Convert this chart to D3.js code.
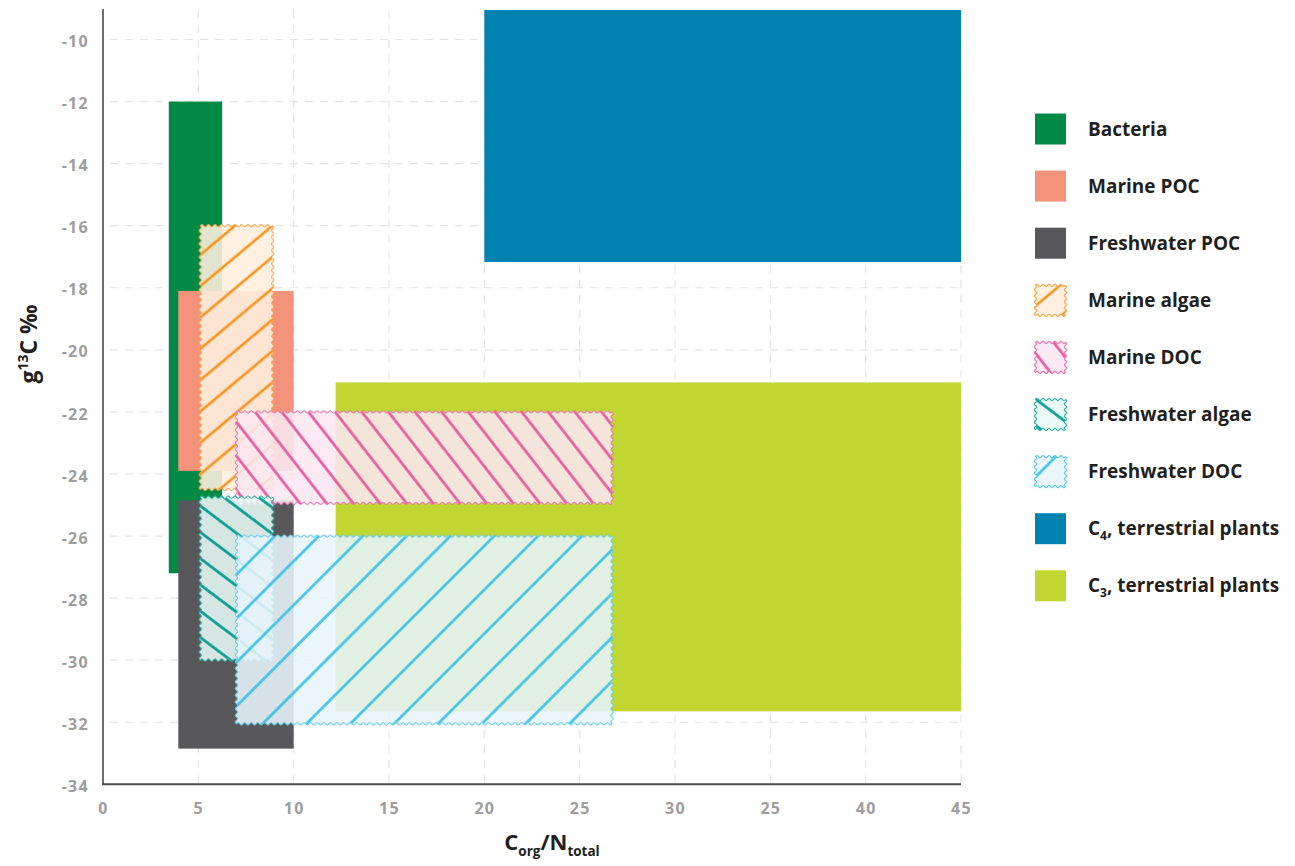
<!DOCTYPE html>
<html>
<head>
<meta charset="utf-8">
<script src="https://cdn.jsdelivr.net/npm/d3@7"></script>
<style>
  body { margin: 0; background: #fff; }
  svg { display: block; }
  text { font-family: "Open Sans", "Noto Sans", sans-serif; }
</style>
</head>
<body>
<svg id="chart" width="1295" height="866"></svg>
<script>
// ---------------- DATA ----------------
const categories = ["Bacteria", "Marine POC", "Freshwater POC", "Marine algae", "Marine DOC",
                    "Freshwater algae", "Freshwater DOC", "C4, terrestrial plants", "C3, terrestrial plants"];
// C/N ratio ranges
const xLow  = [3.45, 3.95, 3.95, 5.1,   7.0,   5.1,   7.0,   20.0,  12.2];
const xHigh = [6.25, 10.0, 10.0, 8.9,   26.7,  8.9,   26.7,  45.0,  45.0];
// delta13C ranges
const yLow  = [-27.2, -23.9, -32.85, -24.5, -24.95, -30.0, -32.05, -17.17, -31.65];
const yHigh = [-12.0, -18.1, -24.85, -16.0, -22.0,  -24.75, -26.0, -9.05,  -21.05];
const drawOrder = [0, 1, 2, 7, 8, 3, 4, 5, 6];
const yTicks = [-10, -12, -14, -16, -18, -20, -22, -24, -26, -28, -30, -32, -34];
const xTicks = [0, 5, 10, 15, 20, 25, 30, 35, 40, 45];
const xTickLabels = ["0", "5", "10", "15", "20", "25", "30", "25", "40", "45"];

// ---------------- STYLES ----------------
const styles = [
  { fill: "#008a45" },
  { fill: "#f5927c" },
  { fill: "#58585a" },
  { hatch: "#f7941d", bg: "rgba(254,239,222,0.89)", edge: "#f7a54a", angle: 50, gap: 24 },
  { hatch: "#e8579a", bg: "rgba(251,231,240,0.88)", edge: "#ec75ab", angle: -38, gap: 21 },
  { hatch: "#009a8e", bg: "rgba(230,249,246,0.88)", edge: "#33b0a6", angle: -53, gap: 21 },
  { hatch: "#3fc1e6", bg: "rgba(231,244,252,0.88)", edge: "#62cdec", angle: 45, gap: 31 },
  { fill: "#0083b0" },
  { fill: "#bfd730" }
];

const svg = d3.select("#chart");
const x = d3.scaleLinear().domain([0, 45]).range([103, 961]);
const y = d3.scaleLinear().domain([-34, -9.05]).range([784.3, 10]);

// patterns
const defs = svg.append("defs");
styles.forEach((s, i) => {
  if (!s.hatch) return;
  const p = defs.append("pattern")
    .attr("id", "hatch" + i)
    .attr("patternUnits", "userSpaceOnUse")
    .attr("width", s.gap).attr("height", 40)
    .attr("patternTransform", `rotate(${s.angle})`);
  p.append("rect").attr("width", s.gap).attr("height", 40).attr("fill", s.bg);
  p.append("line").attr("x1", s.gap / 2).attr("x2", s.gap / 2)
    .attr("y1", 0).attr("y2", 40)
    .attr("stroke", s.hatch).attr("stroke-width", 2.6);
});

// grid
const grid = svg.append("g");
grid.selectAll(".hg").data(yTicks.slice(0, -1)).join("line")
  .attr("x1", 110).attr("x2", x(45))
  .attr("y1", d => y(d)).attr("y2", d => y(d))
  .attr("stroke", "#e4e4e4").attr("stroke-width", 1.2).attr("stroke-dasharray", "8,7");
grid.selectAll(".vg").data(xTicks.slice(1)).join("line")
  .attr("x1", d => x(d)).attr("x2", d => x(d))
  .attr("y1", 10).attr("y2", y(-34))
  .attr("stroke", "#e4e4e4").attr("stroke-width", 1.2).attr("stroke-dasharray", "8,7");

// wavy rect path
function wavyPath(x0, y0, x1, y1, amp, wl) {
  const pts = [];
  function edge(ax, ay, bx, by, nx, ny) {
    const len = Math.hypot(bx - ax, by - ay);
    const n = Math.max(1, Math.round(len / wl));
    const steps = n * 10;
    for (let k = 0; k < steps; k++) {
      const t = k / steps;
      const off = amp * Math.sin(t * n * 2 * Math.PI);
      pts.push([ax + (bx - ax) * t + nx * off, ay + (by - ay) * t + ny * off]);
    }
  }
  edge(x0, y0, x1, y0, 0, -1);
  edge(x1, y0, x1, y1, 1, 0);
  edge(x1, y1, x0, y1, 0, 1);
  edge(x0, y1, x0, y0, -1, 0);
  return d3.line().curve(d3.curveCatmullRomClosed)(pts);
}

// rectangles
const marks = svg.append("g");
drawOrder.forEach(i => {
  const s = styles[i];
  const x0 = x(xLow[i]), x1 = x(xHigh[i]), y0 = y(yHigh[i]), y1 = y(yLow[i]);
  if (s.fill) {
    marks.append("rect").attr("x", x0).attr("y", y0)
      .attr("width", x1 - x0).attr("height", y1 - y0).attr("fill", s.fill);
  } else {
    marks.append("path").attr("d", wavyPath(x0, y0, x1, y1, 1.1, 6.6))
      .attr("fill", `url(#hatch${i})`)
      .attr("stroke", s.edge).attr("stroke-width", 1.2).attr("stroke-opacity", 0.85);
  }
});

// axes lines
svg.append("line").attr("x1", 103).attr("x2", 103).attr("y1", 9).attr("y2", y(-34))
  .attr("stroke", "#4a4a4a").attr("stroke-width", 1.6);
svg.append("line").attr("x1", 102).attr("x2", x(45)).attr("y1", y(-34)).attr("y2", y(-34))
  .attr("stroke", "#4a4a4a").attr("stroke-width", 2);

// y axis ticks via d3 axis
const yAxis = d3.axisLeft(y).tickValues(yTicks).tickSize(0).tickPadding(0).tickFormat(d => d);
const gy = svg.append("g").attr("transform", "translate(89,2)").call(yAxis);
gy.select(".domain").remove();
gy.selectAll("text").attr("font-size", 16).attr("font-weight", 700)
  .attr("fill", "#9d9d9d").attr("letter-spacing", 1.3)
  .attr("font-family", "'Open Sans', sans-serif");

// x axis ticks
const xAxis = d3.axisBottom(x).tickValues(xTicks).tickSize(0).tickPadding(0)
  .tickFormat((d, k) => xTickLabels[k]);
const gx = svg.append("g").attr("transform", "translate(0,803)").call(xAxis);
gx.select(".domain").remove();
gx.selectAll("text").attr("font-size", 16).attr("font-weight", 700)
  .attr("fill", "#9d9d9d").attr("letter-spacing", 1.3)
  .attr("font-family", "'Open Sans', sans-serif");

// axis titles
const xt = svg.append("text").attr("x", 552).attr("y", 850).attr("text-anchor", "middle")
  .attr("font-size", 22).attr("font-weight", 700).attr("fill", "#231f20")
  .attr("font-family", "'Liberation Sans Narrow', 'Roboto', sans-serif");
xt.append("tspan").text("C");
xt.append("tspan").attr("font-size", 13.5).attr("dy", 6).text("org");
xt.append("tspan").attr("dy", -6).text("/N");
xt.append("tspan").attr("font-size", 13.5).attr("dy", 6).text("total");

const yt = svg.append("text").attr("transform", "translate(37,344) rotate(-90)")
  .attr("text-anchor", "middle").attr("font-size", 23).attr("font-weight", 700).attr("fill", "#231f20");
yt.append("tspan").text("g");
yt.append("tspan").attr("font-size", 14).attr("dy", -9).text("13");
yt.append("tspan").attr("dy", 9).text("C ‰");

// legend
const legend = svg.append("g");
categories.forEach((name, i) => {
  const s = styles[i];
  const cy = 129 + i * 57.1;
  const g = legend.append("g");
  if (s.fill) {
    g.append("rect").attr("x", 1035).attr("y", cy - 15.5).attr("width", 31).attr("height", 31).attr("fill", s.fill);
  } else {
    g.append("path").attr("d", wavyPath(1035.5, cy - 15, 1065.5, cy + 15, 1.1, 6.6))
      .attr("fill", `url(#hatch${i})`).attr("stroke", s.edge).attr("stroke-width", 1.2);
  }
  const t = g.append("text").attr("x", 1088).attr("y", cy + 6.5)
    .attr("font-size", 19).attr("font-weight", 700).attr("fill", "#231f20");
  const m = name.match(/^C(\d)(,.*)$/);
  if (m) {
    t.append("tspan").text("C");
    t.append("tspan").attr("font-size", 12).attr("dy", 5).text(m[1]);
    t.append("tspan").attr("dy", -5).text(m[2]);
  } else {
    t.text(name);
  }
});
</script>
</body>
</html>
